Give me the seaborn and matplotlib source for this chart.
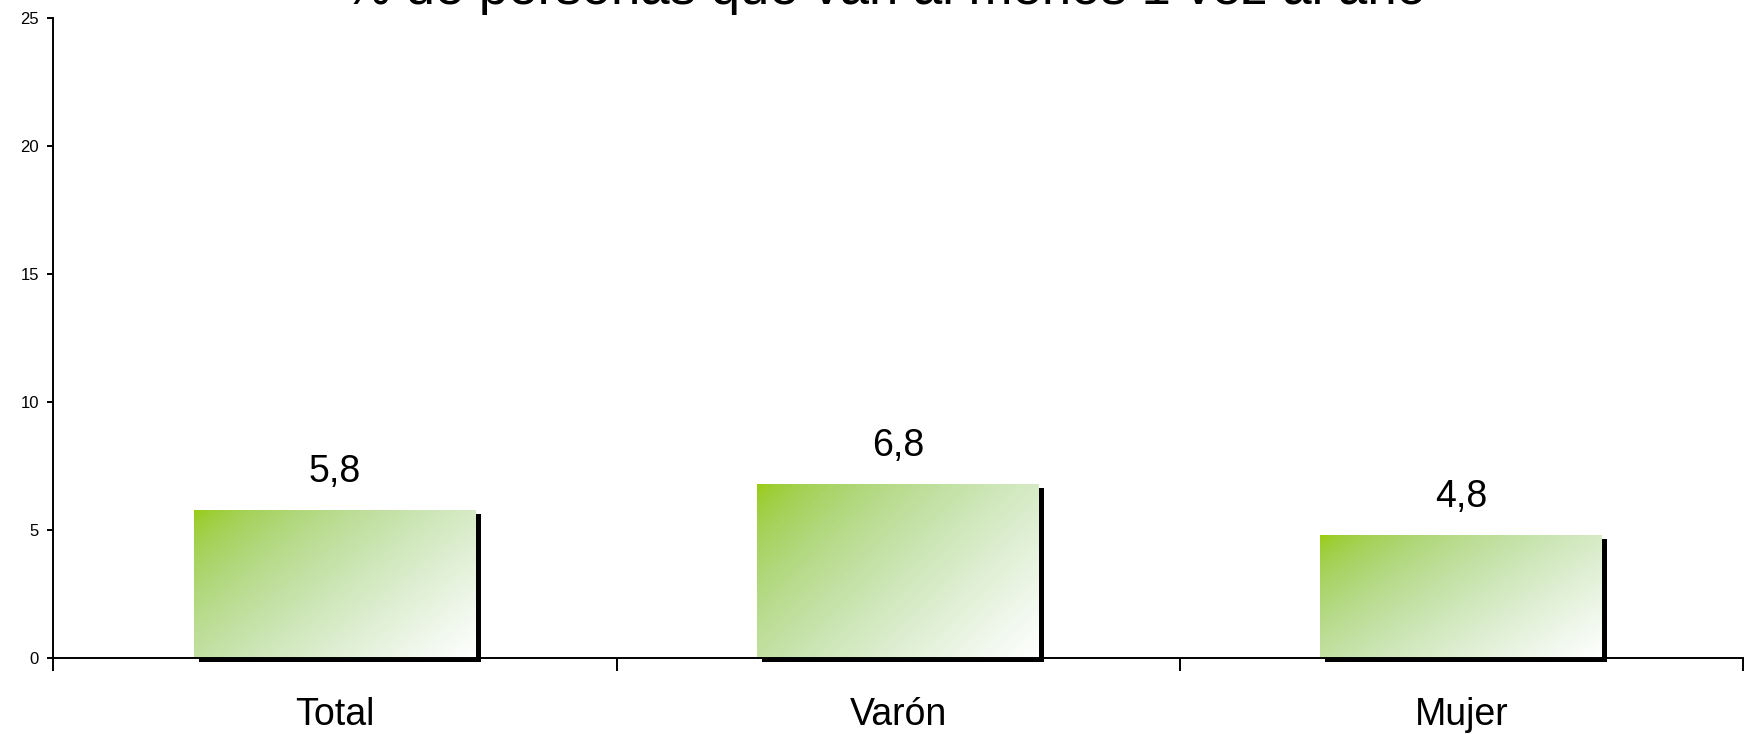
import numpy as np
import pandas as pd
import matplotlib
matplotlib.use('Agg')
import matplotlib.pyplot as plt
import matplotlib.transforms as mtransforms
from matplotlib.patches import Rectangle
import seaborn as sns

# ── DATA ─────────────────────────────────────────────────────────────────────
categories = ["Total", "Varón", "Mujer"]
values = [5.8, 6.8, 4.8]
value_labels = ["5,8", "6,8", "4,8"]
title = "% de personas que van al menos 1 vez al año"
y_ticks = [0, 5, 10, 15, 20, 25]

df = pd.DataFrame({"categoria": categories, "valor": values})

# ── STYLE ────────────────────────────────────────────────────────────────────
sns.set_style("white")
plt.rcParams['font.family'] = ['Liberation Sans', 'DejaVu Sans']
plt.rcParams['text.color'] = 'black'
plt.rcParams['xtick.color'] = 'black'
plt.rcParams['ytick.color'] = 'black'

fig = plt.figure(figsize=(17.46, 7.34), dpi=100)
ax = fig.add_axes([0.0306, 0.1035, 0.9676, 0.872])

sns.barplot(data=df, x="categoria", y="valor", ax=ax, width=0.5,
            color="#99cc00", edgecolor="none", zorder=3)

# gradient fill (green top-left -> white bottom-right) + black offset shadow
green = np.array([153, 204, 0]) / 255.0
shadow_off = mtransforms.ScaledTranslation(5 / 100, -4 / 100, fig.dpi_scale_trans)
for patch in list(ax.patches):
    x0, y0 = patch.get_x(), patch.get_y()
    w, h = patch.get_width(), patch.get_height()
    shadow = Rectangle((x0, y0), w, h, facecolor="black", edgecolor="none",
                       transform=ax.transData + shadow_off, zorder=2, clip_on=False)
    ax.add_patch(shadow)
    ny, nx = 120, 240
    u = np.linspace(0, 1, nx)[None, :]
    v = np.linspace(0, 1, ny)[:, None]
    t = np.clip(0.6 * u + 0.4 * v, 0, 1)
    img = np.empty((ny, nx, 3))
    img[..., 0] = green[0] + (1 - green[0]) * t
    img[..., 1] = green[1] + (1 - green[1]) * t
    img[..., 2] = green[2] + (1 - green[2]) * np.sqrt(t)
    im = ax.imshow(img, extent=[x0, x0 + w, y0, y0 + h], origin="upper",
                   aspect="auto", zorder=4, interpolation="bilinear")
    im.set_clip_path(patch)
    patch.set_facecolor("none")

# value labels
for i, (val, lab) in enumerate(zip(values, value_labels)):
    ax.annotate(lab, (i, val), xytext=(0, 20), textcoords="offset points",
                ha="center", va="baseline", fontsize=27, color="black")

# ── AXES ─────────────────────────────────────────────────────────────────────
ax.set_xlim(-0.5, 2.5)
ax.set_ylim(0, 25)
ax.set_yticks(y_ticks)
ax.set_yticklabels([str(v) for v in y_ticks], fontsize=12)
ax.set_xticks([-0.5, 0.5, 1.5, 2.5])
ax.set_xticklabels([])
ax.set_xticks([0, 1, 2], minor=True)
ax.set_xticklabels(categories, minor=True, fontsize=27)
ax.tick_params(axis="x", which="major", direction="out", length=9, width=1.4, color="black", bottom=True)
ax.tick_params(axis="x", which="minor", length=0, pad=28, bottom=True, labelcolor="black")
ax.tick_params(axis="y", direction="out", length=4.5, width=1.4, color="black", pad=6, left=True,
               labelcolor="black")
ax.set_xlabel("")
ax.set_ylabel("")
sns.despine(ax=ax, top=True, right=True)
for s in ["left", "bottom"]:
    ax.spines[s].set_color("black")
    ax.spines[s].set_linewidth(1.4)
    ax.spines[s].set_zorder(5)

# title sits partly above the canvas, as in the original export
fig.text(0.507, 0.994, title, ha="center", va="baseline", fontsize=38, color="black")

fig.savefig("out.png", dpi=100)
